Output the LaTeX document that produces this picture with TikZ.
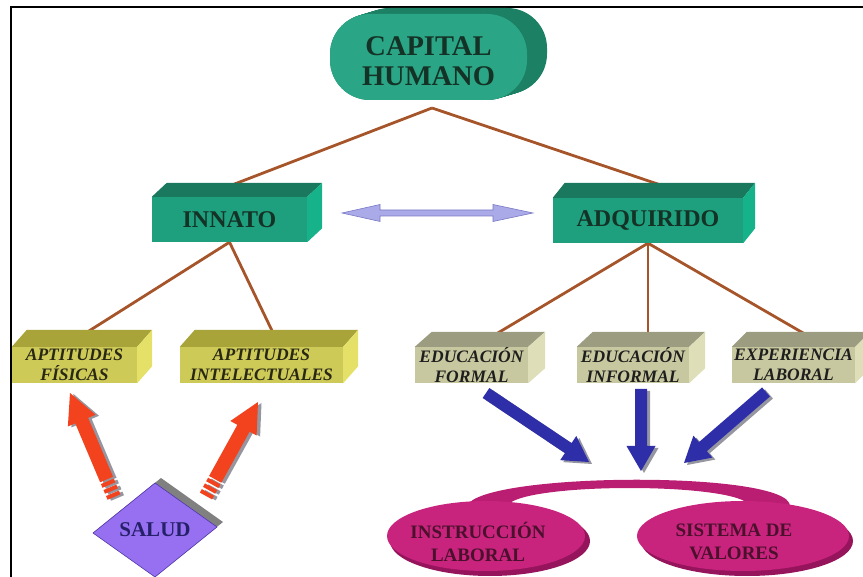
\documentclass[tikz,border=0pt]{standalone}
\usepackage{fontspec}
\setmainfont{Liberation Serif}
\usetikzlibrary{calc,shapes.geometric}
\definecolor{capfront}{RGB}{42,165,134}
\definecolor{capside}{RGB}{28,128,100}
\definecolor{grnfront}{RGB}{30,160,126}
\definecolor{grntop}{RGB}{26,120,94}
\definecolor{grnside}{RGB}{22,178,138}
\definecolor{grntext}{RGB}{20,50,38}
\definecolor{yelfront}{RGB}{206,202,88}
\definecolor{yeltop}{RGB}{168,164,58}
\definecolor{yelside}{RGB}{228,224,104}
\definecolor{yeltext}{RGB}{40,40,20}
\definecolor{gryfront}{RGB}{200,200,160}
\definecolor{grytop}{RGB}{156,156,128}
\definecolor{gryside}{RGB}{222,222,184}
\definecolor{grytext}{RGB}{30,30,30}
\definecolor{brownline}{RGB}{166,84,42}
\definecolor{lav}{RGB}{170,170,232}
\definecolor{lavedge}{RGB}{120,120,196}
\definecolor{bluearr}{RGB}{46,46,168}
\definecolor{redarr}{RGB}{242,66,30}
\definecolor{shadowgray}{RGB}{150,150,160}
\definecolor{purp}{RGB}{150,112,240}
\definecolor{purpedge}{RGB}{80,56,168}
\definecolor{purptext}{RGB}{38,32,106}
\definecolor{pinkfront}{RGB}{200,36,126}
\definecolor{pinkrim}{RGB}{150,20,92}
\definecolor{pinkband}{RGB}{186,30,114}
\definecolor{pinktext}{RGB}{74,16,44}

\newcommand\boxdepth[4]{%
  \fill[#2] (#1.north west) -- ($(#1.north west)+(#4)$) -- ($(#1.north east)+(#4)$) -- (#1.north east) -- cycle;
  \fill[#3] (#1.north east) -- ($(#1.north east)+(#4)$) -- ($(#1.south east)+(#4)$) -- (#1.south east) -- cycle;
}
\newcommand\fatarr[7]{%
  \coordinate (fa-a) at ($(#1)+(#7)$);
  \coordinate (fa-b) at ($(#2)+(#7)$);
  \coordinate (fa-c) at ($(fa-b)!#5!(fa-a)$);
  \fill[#6] ($(fa-a)!#3!90:(fa-b)$) -- ($(fa-c)!#3!90:(fa-b)$) -- ($(fa-c)!#4!90:(fa-b)$) -- (fa-b)
     -- ($(fa-c)!#4!-90:(fa-b)$) -- ($(fa-c)!#3!-90:(fa-b)$) -- ($(fa-a)!#3!-90:(fa-b)$) -- cycle;
}
\newcommand\arrband[7]{%
  \coordinate (bd-1) at ($($(#1)!#3!(#2)$)+(#7)$);
  \coordinate (bd-2) at ($($(#1)!#4!(#2)$)+(#7)$);
  \coordinate (bd-h) at ($(#2)+(#7)$);
  \fill[#6] ($(bd-1)!#5!90:(bd-h)$) -- ($(bd-2)!#5!90:(bd-h)$) -- ($(bd-2)!#5!-90:(bd-h)$) -- ($(bd-1)!#5!-90:(bd-h)$) -- cycle;
}

\begin{document}
\begin{tikzpicture}[x=1pt,y=-1pt,
  conn/.style={draw=brownline, line width=2.8pt},
  gbox/.style={fill=grnfront, minimum height=45, inner sep=0, text=grntext, font=\bfseries\fontsize{24}{26}\selectfont},
  ybox/.style={fill=yelfront, minimum height=36, inner sep=0, align=center, text=yeltext, font=\bfseries\itshape\fontsize{17.5}{19.5}\selectfont},
  kbox/.style={fill=gryfront, minimum height=36, inner sep=0, align=center, text=grytext, font=\bfseries\itshape\fontsize{17.5}{19.5}\selectfont},
  disc/.style={ellipse, fill=pinkfront, inner sep=0},
  disctext/.style={align=center, text=pinktext, inner sep=0, font=\bfseries\fontsize{19}{23}\selectfont},
]
\useasboundingbox (0,0) rectangle (863,577);
\draw[line width=1.3pt] (11,577) -- (11,7) -- (863,7);

% capital humano (extruded pill)
\foreach \s in {0,1,...,20}
  \fill[capside, rounded corners=40pt] ({330+\s},{14-0.3*\s}) rectangle ({527+\s},{100-0.3*\s});
\fill[capfront, rounded corners=40pt] (330,14) rectangle (527,100);
\node[align=center, inner sep=0, text=grntext, font=\bfseries\fontsize{28.5}{30}\selectfont] (cap) at (428.5,61) {CAPITAL\\HUMANO};
\coordinate (capj) at (432,108);

% nodes (positions)
\path
  node[gbox, minimum width=155] (innato) at (229.5,219.5) {}
  node[gbox, minimum width=190] (adq) at (648,220.5) {}
  node[ybox, minimum width=125] (aptfis) at (74.5,365) {}
  node[ybox, minimum width=163] (aptint) at (261.5,365) {}
  node[kbox, minimum width=113] (edufor) at (471.5,365) {}
  node[kbox, minimum width=112] (eduinf) at (633,365) {}
  node[kbox, minimum width=123] (exper) at (793.5,365) {};

% brown connectors
\draw[conn] (capj) -- ($(innato.north)+(3,-12)$);
\draw[conn] (capj) -- ($(adq.north)+(15,-12)$);
\draw[conn] (innato.south) -- ($(aptfis.north)+(10,-13)$);
\draw[conn] (innato.south) -- ($(aptint.north)+(12,-13)$);
\draw[conn] (adq.south) -- ($(edufor.north)+(25,-13)$);
\draw[conn] (adq.south) -- ($(eduinf.north)+(15,-13)$);
\draw[conn] (adq.south) -- ($(exper.north)+(11,-13)$);

% boxes
\node[gbox, minimum width=155] at (innato) {INNATO};
\boxdepth{innato}{grntop}{grnside}{15,-14}
\node[gbox, minimum width=190] at (adq) {ADQUIRIDO};
\boxdepth{adq}{grntop}{grnside}{12,-15}
\node[ybox, minimum width=125] at (aptfis) {APTITUDES\\FÍSICAS};
\boxdepth{aptfis}{yeltop}{yelside}{15,-17}
\node[ybox, minimum width=163] at (aptint) {APTITUDES\\INTELECTUALES};
\boxdepth{aptint}{yeltop}{yelside}{15,-17}
\node[kbox, minimum width=113] at (edufor) {EDUCACIÓN\\FORMAL};
\boxdepth{edufor}{grytop}{gryside}{17,-15}
\node[kbox, minimum width=112] at (eduinf) {EDUCACIÓN\\INFORMAL};
\boxdepth{eduinf}{grytop}{gryside}{16,-15}
\node[kbox, minimum width=123] at (exper) {EXPERIENCIA\\LABORAL};
\boxdepth{exper}{grytop}{gryside}{15,-15}

% double arrow
\coordinate (dl) at (342,213);
\filldraw[fill=lav, draw=lavedge, line width=0.6pt] (dl) -- ++(38,-8.5) -- ++(0,5.5) -- ++(113,0) -- ++(0,-5.5)
  -- ++(40,8.5) -- ++(-40,8.5) -- ++(0,-5.5) -- ++(-113,0) -- ++(0,5.5) -- cycle;

% blue arrows
\coordinate (b1t) at (486,393); \coordinate (b1h) at (589,462);
\coordinate (b2t) at (641,389); \coordinate (b2h) at (641,471);
\coordinate (b3t) at (766,392); \coordinate (b3h) at (684,463);
\foreach \a in {1,2,3}{
  \fatarr{b\a t}{b\a h}{6pt}{14.5pt}{25pt}{shadowgray}{3,2}
  \fatarr{b\a t}{b\a h}{6pt}{14.5pt}{25pt}{bluearr}{0,0}
}

% red arrows
\coordinate (r1t) at (114,497); \coordinate (r1h) at (70,393);
\coordinate (r2t) at (206,496); \coordinate (r2h) at (258,402);
\foreach \a in {1,2}{
  \coordinate (r\a m) at ($(r\a t)!19pt!(r\a h)$);
  \fatarr{r\a m}{r\a h}{7pt}{15pt}{30pt}{shadowgray}{3.5,1}
  \arrband{r\a t}{r\a h}{0pt}{4pt}{7pt}{shadowgray}{3.5,1}
  \arrband{r\a t}{r\a h}{6.5pt}{10.5pt}{7pt}{shadowgray}{3.5,1}
  \arrband{r\a t}{r\a h}{13pt}{17pt}{7pt}{shadowgray}{3.5,1}
  \fatarr{r\a m}{r\a h}{7pt}{15pt}{30pt}{redarr}{0,0}
  \arrband{r\a t}{r\a h}{0pt}{4pt}{7pt}{redarr}{0,0}
  \arrband{r\a t}{r\a h}{6.5pt}{10.5pt}{7pt}{redarr}{0,0}
  \arrband{r\a t}{r\a h}{13pt}{17pt}{7pt}{redarr}{0,0}
}

% salud diamond
\coordinate (sdT) at (155,483); \coordinate (sdR) at (217,527);
\coordinate (sdB) at (155,577); \coordinate (sdL) at (93,533);
\fill[gray] ($(sdT)+(6,-5)$) -- ($(sdR)+(6,-5)$) -- ($(sdB)+(6,-5)$) -- ($(sdL)+(6,-5)$) -- cycle;
\filldraw[fill=purp, draw=purpedge, line width=0.6pt] (sdT) -- (sdR) -- (sdB) -- (sdL) -- cycle;
\node[inner sep=0, text=purptext, font=\bfseries\fontsize{21}{23}\selectfont] (salud) at (155,530) {SALUD};

% pink discs with band
\fill[pinkband] (467,506) .. controls (480,472) and (790,470) .. (790,506) -- (750,506)
   .. controls (740,482) and (520,482) .. (507,506) -- cycle;
\fill[pinkrim] (490,541) ellipse (100 and 35);
\node[disc, minimum width=198, minimum height=70] (instr) at (486,536) {};
\node[disctext] at (478,542) {INSTRUCCIÓN\\LABORAL};
\fill[pinkrim] (747,541) ellipse (106 and 35);
\node[disc, minimum width=212, minimum height=70] (sist) at (743,536) {};
\node[disctext] at (734,542) {SISTEMA DE\\VALORES};
\end{tikzpicture}
\end{document}
